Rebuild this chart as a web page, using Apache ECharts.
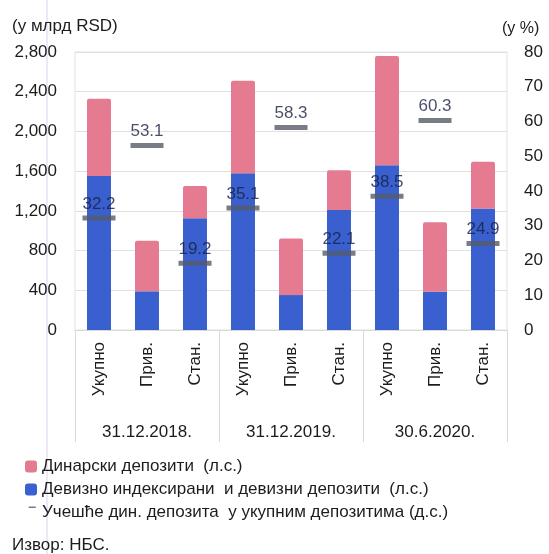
<!DOCTYPE html>
<html><head><meta charset="utf-8">
<script src="https://cdn.jsdelivr.net/npm/echarts@6/dist/echarts.min.js"></script>
<style>html,body{margin:0;padding:0;background:#fff}#c{width:549px;height:554px}</style>
</head><body><div id="c"></div>
<script>
const categories = ['Укупно','Прив.','Стан.','Укупно','Прив.','Стан.','Укупно','Прив.','Стан.'];
const groups = ['31.12.2018.','31.12.2019.','30.6.2020.'];
const fxDeposits = [1550, 390, 1125, 1580, 352, 1208, 1660, 386, 1225];
const dinarDeposits = [780, 510, 325, 930, 570, 400, 1100, 700, 470];
const dinarShare = [32.2, 53.1, 19.2, 35.1, 58.3, 22.1, 38.5, 60.3, 24.9];
const leftTicks = {min:0, max:2800, interval:400};
const rightTicks = {min:0, max:80, interval:10};

const FONT = 'Liberation Sans, Arial, sans-serif';
const PINK = '#e47b91', BLUE = '#3a5fcf', DASH = '#565b68', TXT = '#1c1c1c';
const chart = echarts.init(document.getElementById('c'), null, {renderer:'canvas'});
chart.setOption({
  animation:false,
  textStyle:{fontFamily:FONT},
  grid:{left:75, right:42, top:52, bottom:224, show:true, borderColor:'#e2e2e2', borderWidth:1},
  xAxis:[
    {type:'category', data:categories, gridIndex:0,
     axisLine:{show:true, lineStyle:{color:'#d8d8d8'}}, axisTick:{show:false},
     axisLabel:{rotate:90, margin:12, fontSize:17, color:TXT, fontFamily:FONT, interval:0}},
    {type:'category', data:groups, gridIndex:0, position:'bottom',
     axisLine:{show:false}, axisTick:{show:true, length:112, interval:0, lineStyle:{color:'#d8d8d8'}},
     axisLabel:{margin:94, fontSize:17, color:TXT, fontFamily:FONT, interval:0}}
  ],
  yAxis:[
    {type:'value', min:leftTicks.min, max:leftTicks.max, interval:leftTicks.interval,
     axisLine:{show:false}, axisTick:{show:false},
     splitLine:{lineStyle:{color:'#e0e0e0'}},
     axisLabel:{margin:18, fontSize:17, color:TXT, fontFamily:FONT,
       formatter:v=>v.toLocaleString('en-US')}},
    {type:'value', min:rightTicks.min, max:rightTicks.max, interval:rightTicks.interval,
     position:'right', axisLine:{show:false}, axisTick:{show:false}, splitLine:{show:false},
     axisLabel:{margin:17, fontSize:17, color:TXT, fontFamily:FONT}}
  ],
  legend:{orient:'vertical', left:20, top:453, itemWidth:12, itemHeight:12, itemGap:6,
    textStyle:{fontSize:17, color:TXT, fontFamily:FONT},
    data:[
      {name:'Динарски депозити  (л.с.)', icon:'roundRect'},
      {name:'Девизно индексирани  и девизни депозити  (л.с.)', icon:'roundRect'},
      {name:'Учешће дин. депозита  у укупним депозитима (д.с.)', icon:'path://M2,0h6v1.2h-6z M0,10h0.01v0.01h-0.01z', itemStyle:{color:DASH}}
    ]},
  series:[
    {name:'Девизно индексирани  и девизни депозити  (л.с.)', type:'bar', stack:'d', data:fxDeposits,
     barWidth:'50%', itemStyle:{color:BLUE}},
    {name:'Динарски депозити  (л.с.)', type:'bar', stack:'d', data:dinarDeposits,
     itemStyle:{color:PINK, borderRadius:[2,2,0,0]}},
    {name:'Учешће дин. депозита  у укупним депозитима (д.с.)', type:'scatter', yAxisIndex:1,
     data:dinarShare, symbol:'rect', symbolSize:[33,5], itemStyle:{color:DASH}, z:5,
     label:{show:true, position:'top', distance:3, fontSize:17, color:'#18213d', fontFamily:FONT,
       formatter:p=>p.value.toFixed(1)}}
  ],
  graphic:[
    {type:'text', left:12, top:18, style:{text:'(у млрд RSD)', font:'17px '+FONT, fill:TXT}},
    {type:'text', left:502, top:21, style:{text:'(у %)', font:'16px '+FONT, fill:TXT}},
    {type:'text', left:12, top:537, style:{text:'Извор: НБС.', font:'17px '+FONT, fill:TXT}},
    {type:'line', shape:{x1:47, y1:0, x2:47, y2:554}, style:{stroke:'#d9d2ea', lineWidth:1}, z:-1}
  ]
});
</script></body></html>
